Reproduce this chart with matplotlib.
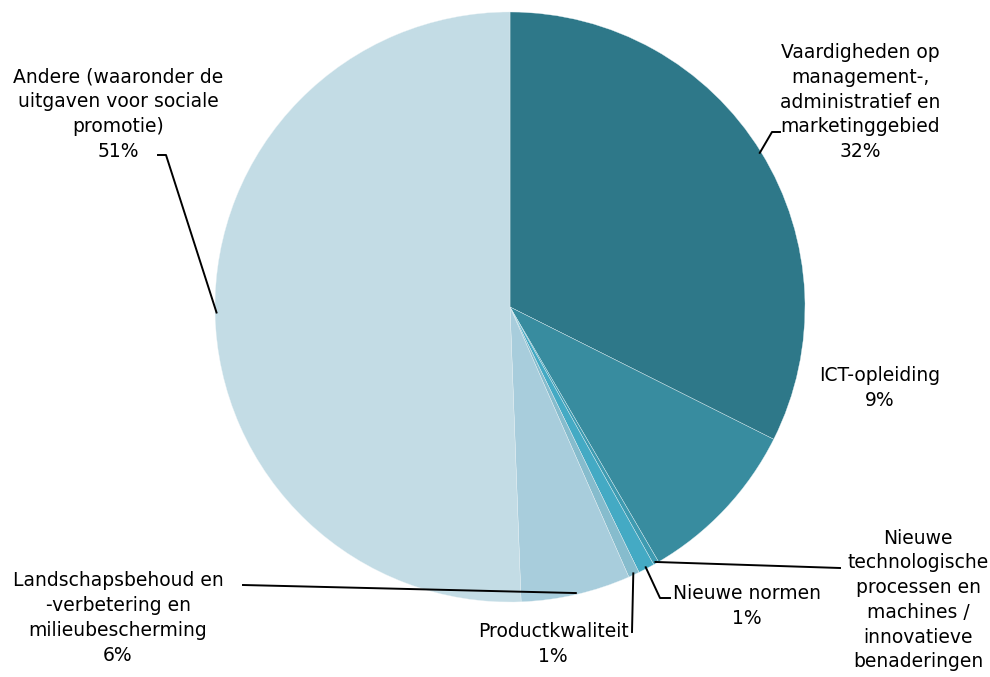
import numpy as np
import matplotlib.pyplot as plt

labels = [
    "Vaardigheden op\nmanagement-,\nadministratief en\nmarketinggebied\n32%",
    "ICT-opleiding\n9%",
    "Nieuwe\ntechnologische\nprocessen en\nmachines /\ninnovatieve\nbenaderingen",
    "Nieuwe normen\n1%",
    "Productkwaliteit\n1%",
    "Landschapsbehoud en\n-verbetering en\nmilieubescherming\n6%",
    "Andere (waaronder de\nuitgaven voor sociale\npromotie)\n51%",
]
shares = [32.4, 9.2, 0.3, 0.9, 0.6, 6.0, 50.6]
colors = ["#2E7889", "#388C9F", "#3E9BB1", "#44AAC4", "#86BCCD", "#A8CDDC", "#C3DCE5"]

# label centre (pixels) and leader elbow points (pixels), None = no leader
text_px = [(860, 102), (880, 388), (918, 600), (747, 606), (553, 644), (118, 618), (118, 114)]
leader_px = [
    [(772, 132), (780, 132)],
    None,
    [(840, 568)],
    [(660, 598), (670, 598)],
    [(632, 632)],
    [(243, 585)],
    [(166, 155), (158, 155)],
]

W, H = 990, 677
cx, cy, R = 510, 307, 295

fig = plt.figure(figsize=(W / 100, H / 100), dpi=100)
ax = fig.add_axes([(cx - R) / W, (H - cy - R) / H, 2 * R / W, 2 * R / H])
wedges, _ = ax.pie(shares, colors=colors, startangle=90, counterclock=False,
                   radius=1, wedgeprops=dict(edgecolor="#E8F2F5", linewidth=0.25))
ax.set_xlim(-1, 1)
ax.set_ylim(-1, 1)
ax.set_aspect("equal")
ax.axis("off")


def to_data(p):
    return ((p[0] - cx) / R, (cy - p[1]) / R)


for w, lab, tp, lp in zip(wedges, labels, text_px, leader_px):
    tx, ty = to_data(tp)
    ax.text(tx, ty, lab, ha="center", va="center", fontsize=13.5,
            linespacing=1.38, color="black", clip_on=False)
    if lp is None:
        continue
    ang = np.deg2rad((w.theta1 + w.theta2) / 2)
    pts = [(0.995 * np.cos(ang), 0.995 * np.sin(ang))] + [to_data(p) for p in lp]
    xs, ys = zip(*pts)
    ax.plot(xs, ys, color="black", lw=1.4, clip_on=False)

fig.savefig("out.png", dpi=100)
